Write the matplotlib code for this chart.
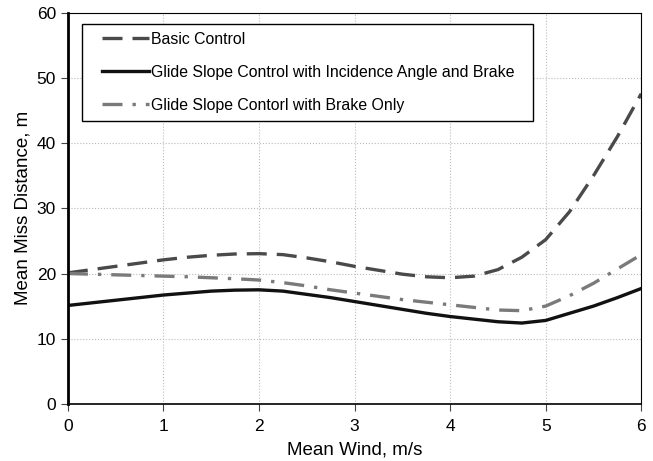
import matplotlib
matplotlib.use("Agg")
import matplotlib.pyplot as plt
from matplotlib.patches import Rectangle

plt.rcParams['font.family'] = ['Liberation Sans', 'DejaVu Sans']

wind = [0, 0.25, 0.5, 0.75, 1, 1.25, 1.5, 1.75, 2, 2.25, 2.5, 2.75, 3,
        3.25, 3.5, 3.75, 4, 4.25, 4.5, 4.75, 5, 5.25, 5.5, 5.75, 6]
basic = [20.1, 20.6, 21.1, 21.6, 22.1, 22.5, 22.8, 23.0, 23.05, 22.9, 22.4, 21.8, 21.1,
         20.5, 19.9, 19.5, 19.35, 19.6, 20.6, 22.5, 25.2, 29.5, 35.0, 41.0, 47.6]
glide_full = [15.1, 15.5, 15.9, 16.3, 16.7, 17.0, 17.3, 17.45, 17.5, 17.3, 16.8, 16.3, 15.7,
              15.1, 14.5, 13.9, 13.4, 13.0, 12.6, 12.4, 12.8, 13.9, 15.0, 16.3, 17.7]
glide_brake = [20.0, 19.9, 19.8, 19.7, 19.6, 19.5, 19.35, 19.2, 19.0, 18.6, 18.1, 17.5, 17.0,
               16.5, 16.0, 15.6, 15.2, 14.8, 14.4, 14.3, 15.0, 16.6, 18.5, 20.7, 22.9]
labels = ["Basic Control",
          "Glide Slope Control with Incidence Angle and Brake",
          "Glide Slope Contorl with Brake Only"]

fig = plt.figure(figsize=(6.53, 4.61), dpi=100)
ax = fig.add_axes([0.104, 0.124, 0.878, 0.848])

ax.plot(wind, basic, color='#4a4a4a', lw=2.4, dashes=(6, 3), label=labels[0])
ax.plot(wind, glide_full, color='#111111', lw=2.4, label=labels[1])
ax.plot(wind, glide_brake, color='#7a7a7a', lw=2.4, dashes=(6, 3, 1, 3), label=labels[2])

ax.set_xlim(0, 6)
ax.set_ylim(0, 60)
ax.set_xticks(range(0, 7))
ax.set_yticks(range(0, 61, 10))
ax.grid(True, color='#bbbbbb', linestyle=':', linewidth=0.8)
ax.tick_params(labelsize=12.5, length=5, color='#444444')
ax.tick_params(axis='x', pad=6)
ax.spines['left'].set_linewidth(2)
ax.spines['bottom'].set_linewidth(1.2)
ax.spines['top'].set_linewidth(0.8)
ax.spines['right'].set_linewidth(0.8)
ax.set_xlabel("Mean Wind, m/s", fontsize=13.5, labelpad=5)
ax.set_ylabel("Mean Miss Distance, m", fontsize=13.5, labelpad=4)

# legend frame (drawn separately so horizontal and vertical padding differ)
frame = Rectangle((0.0239, 0.724), 0.787, 0.247, transform=ax.transAxes,
                  facecolor='white', edgecolor='black', linewidth=1.0, zorder=4.5)
ax.add_patch(frame)

leg = ax.legend(loc='upper left', bbox_to_anchor=(0.045, 0.972), fontsize=11.4,
                frameon=False, handlelength=3.0,
                handletextpad=0.1, labelspacing=1.13, borderpad=0.5, borderaxespad=0)
leg.set_zorder(5)

fig.savefig("out.png", dpi=100)
